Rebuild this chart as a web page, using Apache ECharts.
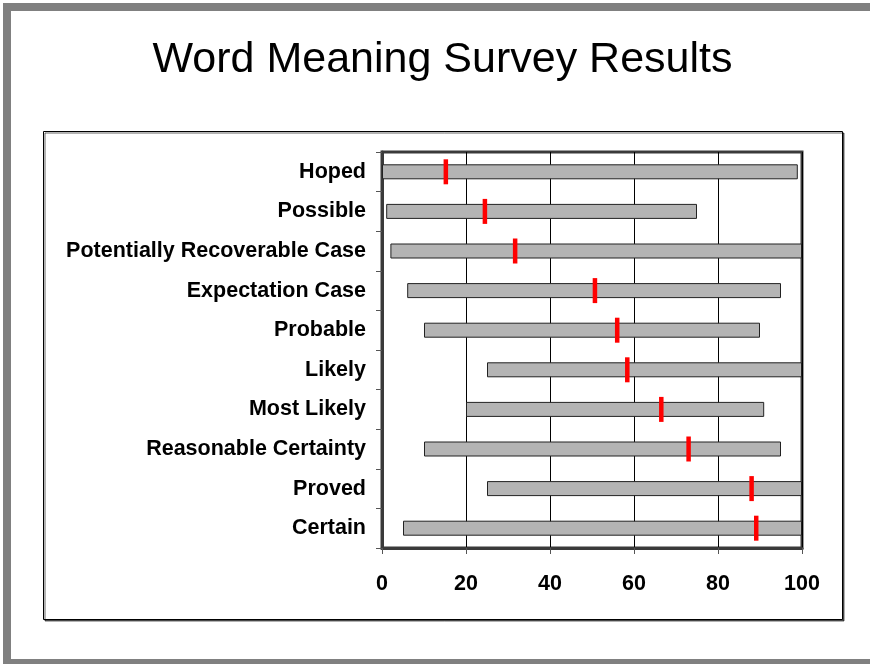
<!DOCTYPE html>
<html>
<head>
<meta charset="utf-8">
<script src="https://cdn.jsdelivr.net/npm/echarts@6/dist/echarts.min.js"></script>
<style>
html,body{margin:0;padding:0;background:#fff;}
#c{width:870px;height:664px;}
</style>
</head>
<body>
<div id="c"></div>
<script>
var categories = ["Hoped","Possible","Potentially Recoverable Case","Expectation Case","Probable","Likely","Most Likely","Reasonable Certainty","Proved","Certain"];
var rangeLow  = [0, 1, 2, 6, 10, 25, 20, 10, 25, 5];
var rangeHigh = [99, 75, 100, 95, 90, 100, 91, 95, 100, 100];
var markerValue = [15.2, 24.5, 31.7, 50.7, 56, 58.4, 66.5, 73, 88, 89.1];
var xTicks = [0, 20, 40, 60, 80, 100];
var titleText = 'Word Meaning Survey Results';

var FONT = '"Liberation Sans", Arial, sans-serif';
var chart = echarts.init(document.getElementById('c'), null, {renderer:'canvas'});
var rangeLen = rangeHigh.map(function(h,i){ return h - rangeLow[i]; });

chart.setOption({
  animation:false,
  backgroundColor:'#fff',
  graphic:[
    {type:'rect', shape:{x:3,y:3,width:870,height:8}, style:{fill:'#808080'}, silent:true},
    {type:'rect', shape:{x:3,y:3,width:8,height:664}, style:{fill:'#808080'}, silent:true},
    {type:'rect', shape:{x:3,y:659,width:870,height:6}, style:{fill:'#808080'}, silent:true},
    {type:'rect', z:-10, shape:{x:43.5,y:131.5,width:799,height:488}, style:{fill:'#fff',stroke:'#000',lineWidth:1, shadowColor:'rgba(0,0,0,0.6)', shadowOffsetX:1.5, shadowOffsetY:1.5, shadowBlur:0}, silent:true},
    {type:'text', x:442.5, y:60, style:{text:titleText, fontFamily:FONT, fontSize:43, fill:'#000', textAlign:'center', textVerticalAlign:'middle'}, silent:true}
  ],
  grid:{left:382, right:68, top:152, bottom:116, show:true, borderColor:'#3a3a3a', borderWidth:3, backgroundColor:'transparent', containLabel:false},
  xAxis:{
    type:'value', min:xTicks[0], max:xTicks[xTicks.length-1], interval:20,
    axisLine:{show:true, lineStyle:{color:'#3a3a3a', width:3}},
    axisTick:{show:true, length:6, lineStyle:{color:'#555', width:1}},
    axisLabel:{fontFamily:FONT, fontSize:21.5, fontWeight:'bold', color:'#000', margin:25},
    splitLine:{show:true, lineStyle:{color:'#000', width:1}}
  },
  yAxis:{
    type:'category', data:categories, inverse:true,
    axisLine:{show:true, lineStyle:{color:'#3a3a3a', width:3}},
    axisTick:{show:true, length:6, lineStyle:{color:'#555', width:1}},
    axisLabel:{fontFamily:FONT, fontSize:21.5, fontWeight:'bold', color:'#000', margin:16},
    splitLine:{show:false}
  },
  series:[
    {type:'bar', stack:'r', data:rangeLow, barWidth:15, itemStyle:{color:'transparent'}, silent:true},
    {type:'bar', stack:'r', data:rangeLen, barWidth:15, itemStyle:{color:'#b4b4b4', borderColor:'#222', borderWidth:1}},
    {type:'scatter', data:markerValue.map(function(v,i){return [v, categories[i]];}), symbol:'rect', symbolSize:[4.5,25], itemStyle:{color:'#ff0000', opacity:1}, z:5}
  ]
});
</script>
</body>
</html>
